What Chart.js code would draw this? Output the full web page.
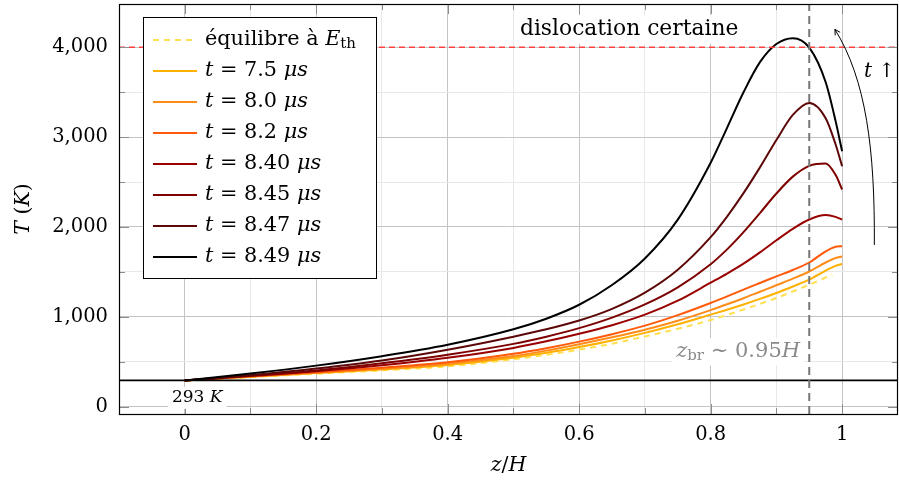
<!DOCTYPE html>
<html>
<head>
<meta charset="utf-8">
<script src="https://cdn.jsdelivr.net/npm/chart.js@4.4.0/dist/chart.umd.min.js"></script>
<style>
  html, body { margin: 0; padding: 0; background: #fff; }
  #wrap { width: 899px; height: 484px; }
</style>
</head>
<body>
<div id="wrap"><canvas id="tempChart"></canvas></div>
<script>
// positions z/H et températures (K)
const zPos = [0, 0.1, 0.2, 0.3, 0.4, 0.5, 0.55, 0.6, 0.65, 0.7, 0.75, 0.8, 0.825, 0.85, 0.875, 0.9, 0.925, 0.95, 0.975, 0.99, 1.0];
const zEq  = [0, 0.1, 0.2, 0.3, 0.4, 0.5, 0.55, 0.6, 0.65, 0.7, 0.75, 0.8, 0.825, 0.85, 0.875, 0.9, 0.925, 0.95, 0.985];
const tEq  = [293, 330, 368, 405, 450, 528, 578, 636, 702, 782, 868, 965, 1022, 1082, 1145, 1210, 1283, 1358, 1470];
const t75  = [293, 333, 375, 415, 465, 545, 600, 665, 738, 822, 918, 1025, 1080, 1138, 1200, 1266, 1338, 1414, 1515, 1568, 1588];
const t80  = [293, 336, 379, 423, 480, 565, 625, 696, 773, 857, 957, 1075, 1140, 1208, 1280, 1352, 1425, 1505, 1605, 1655, 1672];
const t82  = [293, 340, 385, 435, 495, 590, 652, 725, 808, 903, 1020, 1155, 1228, 1303, 1377, 1451, 1522, 1605, 1730, 1780, 1787];
const t840 = [293, 343, 395, 462, 545, 655, 728, 812, 908, 1025, 1180, 1380, 1482, 1592, 1717, 1852, 1980, 2083, 2132, 2112, 2082];
const t845 = [293, 348, 405, 485, 580, 700, 780, 875, 992, 1139, 1329, 1586, 1751, 1943, 2155, 2372, 2560, 2680, 2706, 2580, 2417];
const t847 = [293, 352, 425, 515, 635, 780, 862, 960, 1090, 1270, 1525, 1887, 2116, 2376, 2663, 2967, 3246, 3380, 3210, 2920, 2676];
const t849 = [293, 370, 458, 563, 690, 862, 980, 1135, 1355, 1650, 2082, 2714, 3103, 3498, 3833, 4035, 4100, 3995, 3610, 3180, 2843];

const timeLabels = ['7.5', '8.0', '8.2', '8.40', '8.45', '8.47', '8.49'];
const tempSeries = [t75, t80, t82, t840, t845, t847, t849];
const seriesColors = ['#ffb000', '#ff8c1a', '#ff5a0a', '#990000', '#7d0000', '#5c0808', '#000000'];
const eqColor = '#ffe050';

// graduations
const xTicks = [0, 0.2, 0.4, 0.6, 0.8, 1];
const xMinor = [-0.1, 0.1, 0.3, 0.5, 0.7, 0.9];
const yTicks = [0, 1000, 2000, 3000, 4000];
const yMinor = [500, 1500, 2500, 3500];

// lignes de référence
const zEdges = [-0.1, 1.085];
const tLimits = [-80, 4480];
const tRoom = 293;
const tCrit = 4000;
const zBr = 0.95;

const serif = 'DejaVu Serif';
const pts = (xs, ys) => xs.map((x, i) => ({ x: x, y: ys[i] }));
const tickList = (a, b) => a.concat(b).sort((p, q) => p - q).map(v => ({ value: v }));

const datasets = [];
datasets.push({ data: pts([zBr, zBr], tLimits), borderColor: '#777', borderWidth: 2, borderDash: [8, 5], order: 0, tension: 0 });
datasets.push({ data: pts(zEdges, [tRoom, tRoom]), borderColor: '#000', borderWidth: 1.8, order: 0, tension: 0 });
datasets.push({ data: pts(zEdges, [tCrit, tCrit]), borderColor: '#ff4040', borderWidth: 1.5, borderDash: [6, 4], order: 0, tension: 0 });
tempSeries.forEach((s, i) => {
    datasets.push({
        label: 't = ' + timeLabels[i] + ' μs',
        data: pts(zPos, s),
        borderColor: seriesColors[i],
        borderWidth: 2,
        cubicInterpolationMode: 'monotone',
        order: 8 - i
    });
});
datasets.push({ label: 'équilibre', data: pts(zEq, tEq), borderColor: eqColor, borderWidth: 2, borderDash: [6, 5], cubicInterpolationMode: 'monotone', order: 9 });

// texte riche : [texte, style] avec style 'n', 'i' ou 'sub'
function fontOf(style, size) {
    if (style === 'sub') return Math.round(size * 0.7) + 'px "' + serif + '"';
    return (style === 'i' ? 'italic ' : '') + size + 'px "' + serif + '"';
}
function richWidth(ctx, parts, size) {
    let w = 0;
    parts.forEach(p => { ctx.font = fontOf(p[1], size); w += ctx.measureText(p[0]).width; });
    return w;
}
function drawRich(ctx, parts, x, y, size, align, color, bg) {
    const w = richWidth(ctx, parts, size);
    let cx = align === 'center' ? x - w / 2 : align === 'right' ? x - w : x;
    if (bg) {
        ctx.fillStyle = '#fff';
        ctx.fillRect(cx - 4, y - size * 0.65, w + 8, size * 1.3);
    }
    ctx.fillStyle = color || '#000';
    ctx.textBaseline = 'middle';
    ctx.textAlign = 'left';
    parts.forEach(p => {
        ctx.font = fontOf(p[1], size);
        ctx.fillText(p[0], cx, p[1] === 'sub' ? y + size * 0.22 : y);
        cx += ctx.measureText(p[0]).width;
    });
}

const inList = (v, list) => list.some(u => Math.abs(u - v) < 1e-9);

const decorPlugin = {
    id: 'decor',
    afterDatasetsDraw(chart) {
        const { ctx, chartArea: a, scales: { x, y } } = chart;
        ctx.save();

        // petites graduations
        ctx.strokeStyle = '#8c8c8c';
        ctx.lineWidth = 1;
        x.ticks.forEach(t => {
            const len = inList(t.value, xTicks) ? 10 : 6;
            const p = Math.round(x.getPixelForValue(t.value)) + 0.5;
            ctx.beginPath();
            ctx.moveTo(p, a.bottom); ctx.lineTo(p, a.bottom - len);
            ctx.moveTo(p, a.top); ctx.lineTo(p, a.top + len);
            ctx.stroke();
        });
        y.ticks.forEach(t => {
            const len = inList(t.value, yTicks) ? 10 : 6;
            const p = Math.round(y.getPixelForValue(t.value)) + 0.5;
            ctx.beginPath();
            ctx.moveTo(a.left, p); ctx.lineTo(a.left + len, p);
            ctx.moveTo(a.right, p); ctx.lineTo(a.right - len, p);
            ctx.stroke();
        });

        // annotations
        drawRich(ctx, [['dislocation certaine', 'n']], x.getPixelForValue(0.676), y.getPixelForValue(4198), 21.8, 'center', '#000', true);
        drawRich(ctx, [['z', 'i'], ['br', 'sub'], [' ∼ 0.95', 'n'], ['H', 'i']], x.getPixelForValue(0.936), y.getPixelForValue(612), 21, 'right', '#8a8a8a', true);
        drawRich(ctx, [['293 ', 'n'], ['K', 'i']], x.getPixelForValue(0.019), y.getPixelForValue(100), 17, 'center', '#000', true);
        drawRich(ctx, [['t', 'i'], [' ↑', 'n']], x.getPixelForValue(1.057), y.getPixelForValue(3730), 20, 'center', '#000', false);

        // flèche courbe
        const p0 = [x.getPixelForValue(1.049), y.getPixelForValue(1800)];
        const p1 = [x.getPixelForValue(1.050), y.getPixelForValue(2860)];
        const p2 = [x.getPixelForValue(1.0365), y.getPixelForValue(3640)];
        const p3 = [x.getPixelForValue(0.989), y.getPixelForValue(4198)];
        ctx.strokeStyle = '#000';
        ctx.lineWidth = 1;
        ctx.beginPath();
        ctx.moveTo(p0[0], p0[1]);
        ctx.bezierCurveTo(p1[0], p1[1], p2[0], p2[1], p3[0], p3[1]);
        ctx.stroke();
        const ang = Math.atan2(p3[1] - p2[1], p3[0] - p2[0]);
        ctx.beginPath();
        ctx.moveTo(p3[0] - 6 * Math.cos(ang - 0.5), p3[1] - 6 * Math.sin(ang - 0.5));
        ctx.lineTo(p3[0], p3[1]);
        ctx.lineTo(p3[0] - 6 * Math.cos(ang + 0.5), p3[1] - 6 * Math.sin(ang + 0.5));
        ctx.stroke();

        // légende
        const lx = a.left + 24, ly = a.top + 13, lw = 233, lh = 261;
        ctx.fillStyle = '#fff';
        ctx.fillRect(lx, ly, lw, lh);
        ctx.strokeStyle = '#000';
        ctx.lineWidth = 1;
        ctx.strokeRect(lx + 0.5, ly + 0.5, lw, lh);
        const entries = [{ color: eqColor, dash: [6, 5], parts: [['équilibre à ', 'n'], ['E', 'i'], ['th', 'sub']] }];
        timeLabels.forEach((lab, i) => entries.push({ color: seriesColors[i], dash: [], parts: [['t', 'i'], [' = ' + lab + ' ', 'n'], ['μs', 'i']] }));
        entries.forEach((e, i) => {
            const ey = ly + 23 + i * 31;
            ctx.strokeStyle = e.color;
            ctx.lineWidth = 2;
            ctx.setLineDash(e.dash);
            ctx.beginPath();
            ctx.moveTo(lx + 10, ey); ctx.lineTo(lx + 54, ey);
            ctx.stroke();
            ctx.setLineDash([]);
            drawRich(ctx, e.parts, lx + 62, ey, 20.8, 'left', '#000', false);
        });

        // cadre
        ctx.strokeStyle = '#000';
        ctx.lineWidth = 1.2;
        ctx.strokeRect(a.left + 0.5, a.top + 0.5, a.right - a.left - 1, a.bottom - a.top);

        // titres des axes
        drawRich(ctx, [['z', 'i'], ['/', 'n'], ['H', 'i']], (a.left + a.right) / 2, 466, 20.5, 'center', '#000', false);
        ctx.save();
        ctx.translate(24, (a.top + a.bottom) / 2);
        ctx.rotate(-Math.PI / 2);
        drawRich(ctx, [['T', 'i'], [' (', 'n'], ['K', 'i'], [')', 'n']], 0, 0, 20.5, 'center', '#000', false);
        ctx.restore();

        ctx.restore();
    }
};

new Chart(document.getElementById('tempChart'), {
    type: 'scatter',
    data: { datasets: datasets },
    options: {
        responsive: true,
        maintainAspectRatio: false,
        animation: false,
        showLine: true,
        layout: { padding: { top: 4, right: 1, left: 0, bottom: 0 } },
        elements: { point: { radius: 0, hoverRadius: 0 }, line: { fill: false } },
        plugins: { legend: { display: false }, tooltip: { enabled: false } },
        scales: {
            x: {
                type: 'linear',
                min: zEdges[0],
                max: zEdges[1],
                afterBuildTicks: s => { s.ticks = tickList(xTicks, xMinor); },
                afterFit: s => { s.height = 70; s.paddingLeft = 0; s.paddingRight = 0; },
                border: { display: false },
                grid: {
                    drawTicks: false,
                    color: c => inList(c.tick.value, xTicks) ? '#c4c4c4' : '#e8e8e8'
                },
                ticks: {
                    autoSkip: false,
                    maxRotation: 0,
                    padding: 9,
                    color: '#000',
                    font: { family: serif, size: 19.5 },
                    callback: v => inList(v, xTicks) ? String(v) : ''
                }
            },
            y: {
                type: 'linear',
                min: tLimits[0],
                max: tLimits[1],
                afterBuildTicks: s => { s.ticks = tickList(yTicks, yMinor); },
                afterFit: s => { s.width = 119; s.paddingTop = 0; s.paddingBottom = 0; },
                border: { display: false },
                grid: {
                    drawTicks: false,
                    color: c => inList(c.tick.value, yTicks) ? '#c4c4c4' : '#e8e8e8'
                },
                ticks: {
                    autoSkip: false,
                    padding: 11,
                    color: '#000',
                    font: { family: serif, size: 19.5 },
                    callback: v => inList(v, yTicks) ? v.toLocaleString('en-US') : ''
                }
            }
        }
    },
    plugins: [decorPlugin]
});
</script>
</body>
</html>
